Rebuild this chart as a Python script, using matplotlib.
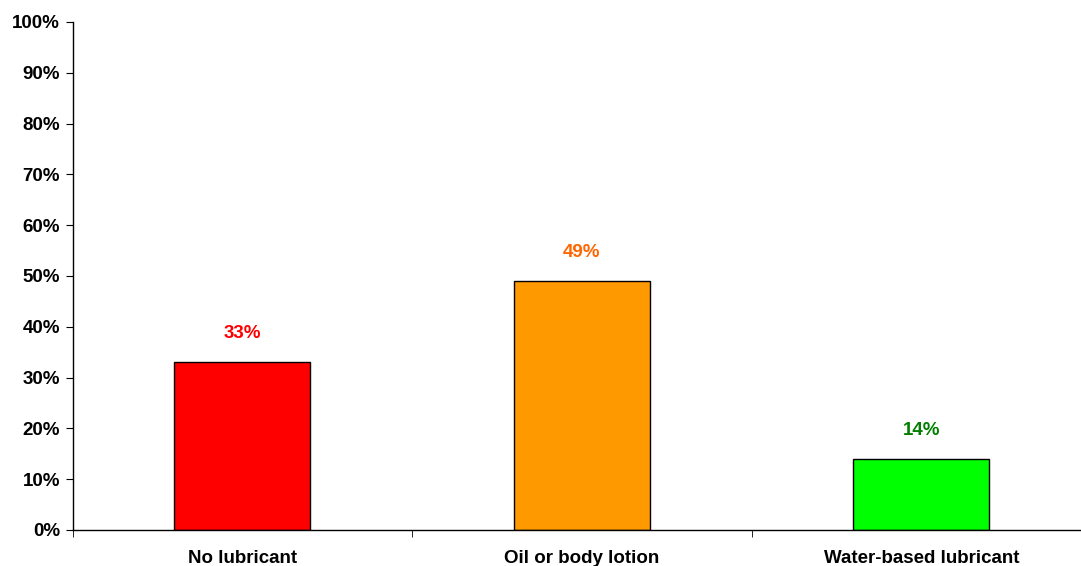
import numpy as np
import matplotlib.pyplot as plt
from matplotlib.ticker import FixedLocator, PercentFormatter

categories = ['No lubricant', 'Oil or body lotion', 'Water-based lubricant']
values = [33, 49, 14]
bar_colors = ['#FF0000', '#FF9900', '#00FF00']
label_colors = ['#FF0000', '#FF6600', '#008000']

plt.rcParams['font.family'] = ['Liberation Sans', 'DejaVu Sans']
plt.rcParams['font.weight'] = 'bold'

fig = plt.figure(figsize=(10.81, 5.66), dpi=100)
# axis runs a little past the right edge, as in the original
ax = fig.add_axes([72.5 / 1081, 1 - 530 / 566, 1018.5 / 1081, (530 - 22) / 566])

x = np.arange(len(categories))
ax.bar(x, values, width=0.40, color=bar_colors, edgecolor='black', linewidth=1)
for xi, v, c in zip(x, values, label_colors):
    ax.text(xi, v + 5.6, '%d%%' % v, ha='center', va='center', color=c,
            fontsize=13.5, fontweight='bold')

ax.set_xlim(-0.5, len(categories) - 0.5)
ax.set_ylim(0, 100)
ax.set_yticks(np.arange(0, 101, 10))
ax.yaxis.set_major_formatter(PercentFormatter(decimals=0))
ax.set_xticks(x)
ax.set_xticklabels(categories)
ax.xaxis.set_minor_locator(FixedLocator(np.arange(-0.5, len(categories), 1)))

ax.tick_params(axis='x', which='major', length=0, pad=14.5, labelsize=13.5)
ax.tick_params(axis='x', which='minor', length=5, direction='out')
ax.tick_params(axis='y', length=5, direction='out', labelsize=13.5, pad=4)

ax.spines['top'].set_visible(False)
ax.spines['right'].set_visible(False)
for s in ('left', 'bottom'):
    ax.spines[s].set_linewidth(1)

plt.savefig('out.png', dpi=100)
